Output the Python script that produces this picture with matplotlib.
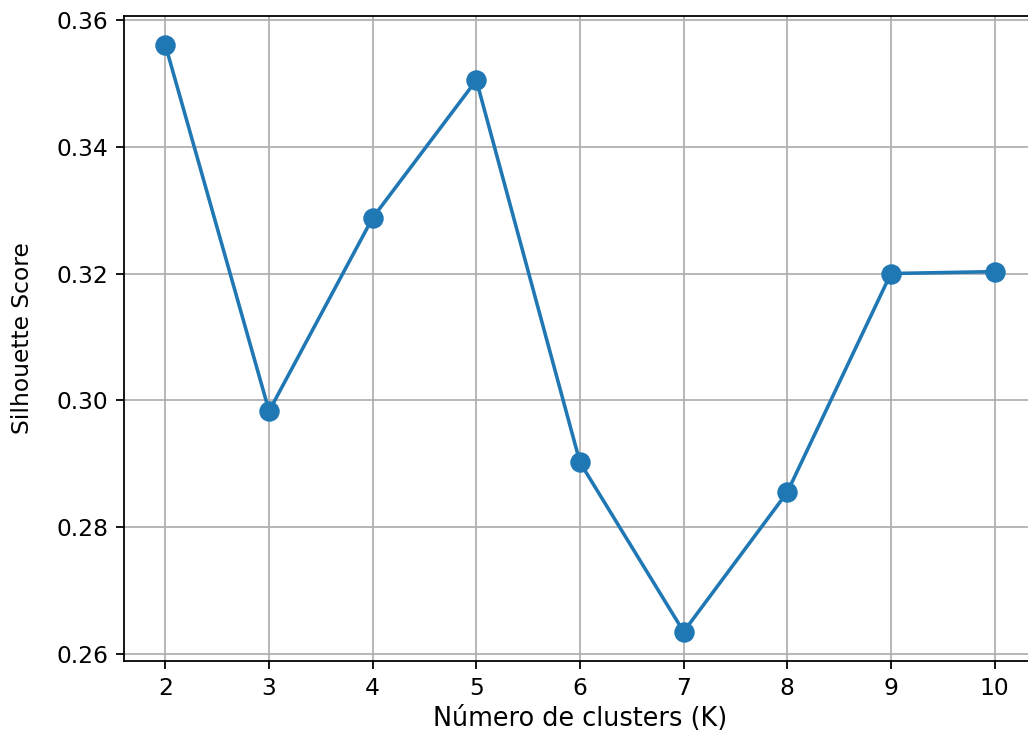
import matplotlib
matplotlib.use("Agg")
import matplotlib.pyplot as plt

# data
k_values = [2, 3, 4, 5, 6, 7, 8, 9, 10]
silhouette = [0.3560, 0.2983, 0.3288, 0.3505, 0.2902, 0.2635, 0.2855, 0.3200, 0.3203]

dpi = 160
fig = plt.figure(figsize=(1028 / dpi, 736 / dpi), dpi=dpi)
# axes run slightly past the right edge, like the cropped original
ax = fig.add_axes([124 / 1028, 1 - 661 / 736, 912 / 1028, 645 / 736])

ax.plot(k_values, silhouette, marker="o", color="#1f77b4", linewidth=1.6, markersize=8.2)
ax.set_xticks(k_values)
ax.set_yticks([0.26, 0.28, 0.30, 0.32, 0.34, 0.36])
ax.set_xlabel("Número de clusters (K)", fontsize=11.5, labelpad=3)
ax.set_ylabel("Silhouette Score", fontsize=10.5, labelpad=10)
ax.tick_params(labelsize=10.5)
ax.grid(True)

fig.savefig("out.png", dpi=dpi)
